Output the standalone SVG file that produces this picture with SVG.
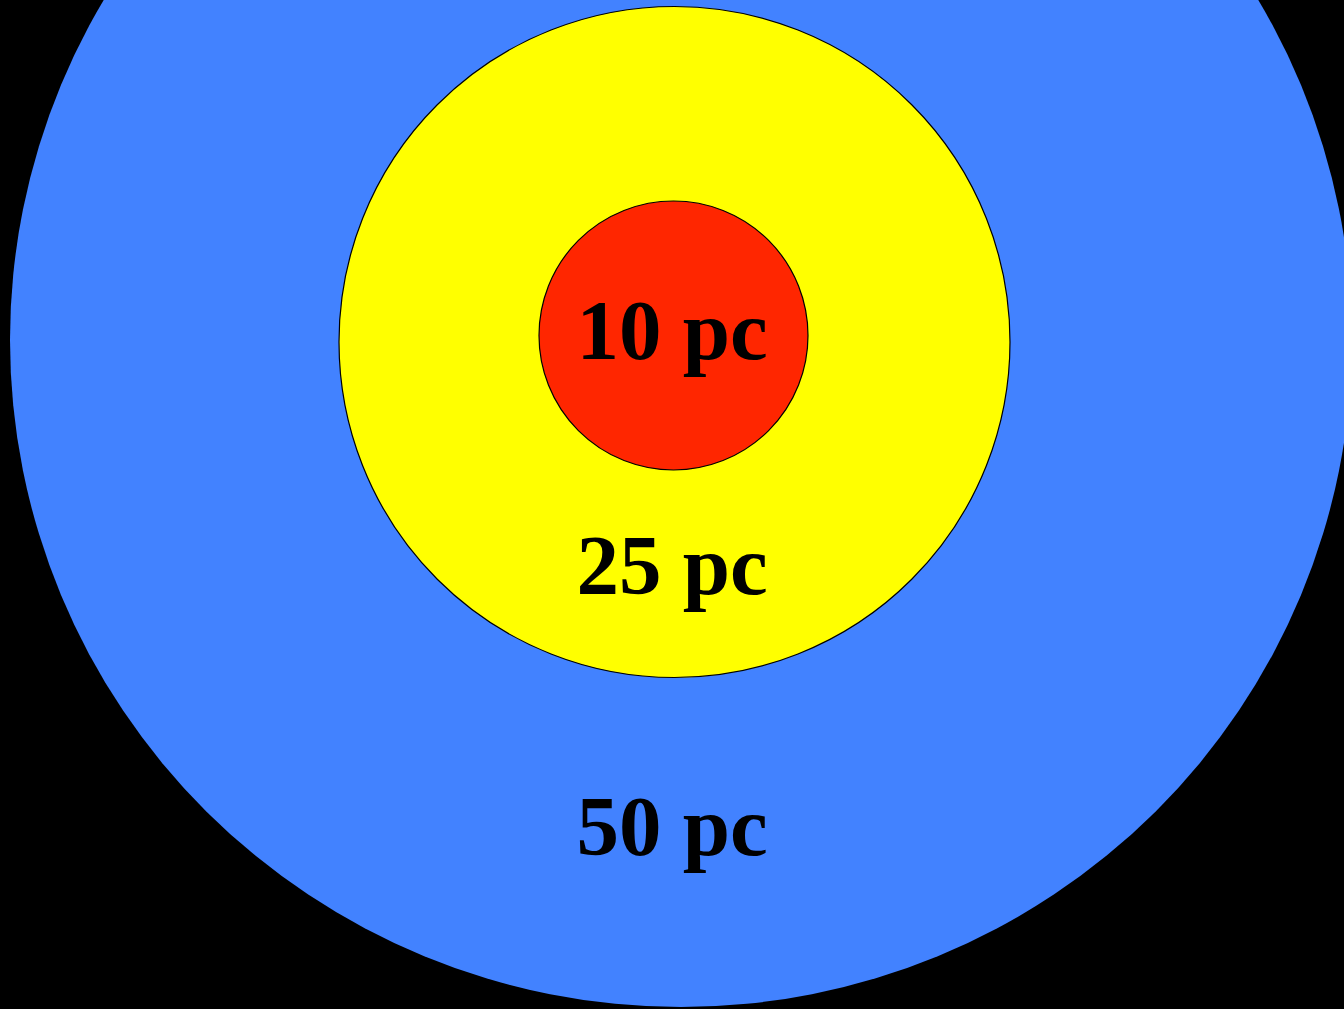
<svg xmlns="http://www.w3.org/2000/svg" width="1344" height="1009" viewBox="0 0 1344 1009">
<style>
.lbl{font-family:"Liberation Serif","Times New Roman",serif;font-weight:bold;font-size:85px;fill:#000;text-anchor:middle}
.ring{stroke:#000;stroke-width:1.2}
</style>
<rect x="0" y="0" width="1344" height="1009" fill="#000"/>
<g id="outer">
<ellipse cx="681" cy="340" rx="671" ry="667" fill="#4282FF"/>
<text class="lbl" x="672" y="855">50 pc</text>
</g>
<g id="middle">
<circle class="ring" cx="674.5" cy="342" r="335.5" fill="#FFFF00"/>
<text class="lbl" x="672" y="594">25 pc</text>
</g>
<g id="inner">
<circle class="ring" cx="673.5" cy="335.5" r="134.5" fill="#FF2600"/>
<text class="lbl" x="672" y="359">10 pc</text>
</g>
<g id="connectors"/>
</svg>
